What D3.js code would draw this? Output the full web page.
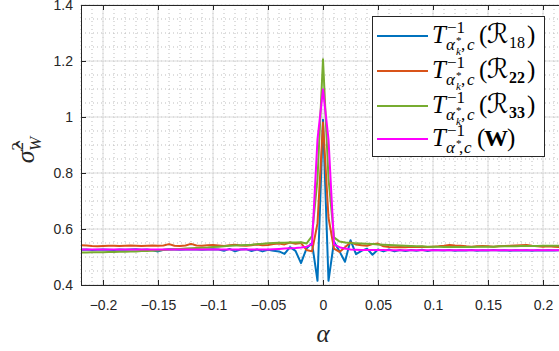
<!DOCTYPE html>
<html>
<head>
<meta charset="utf-8">
<script src="https://cdn.jsdelivr.net/npm/d3@7"></script>
<style>
  body { margin: 0; background: #fff; }
  svg { display: block; }
  .tick text { font-family: "Liberation Sans", Arial, sans-serif; font-size: 14px; fill: #262626; }
</style>
</head>
<body>
<div id="chart"></div>
<script>
const alpha = [
  -0.22,-0.215,-0.21,-0.205,-0.2,-0.195,-0.19,-0.185,-0.18,-0.175,
  -0.17,-0.165,-0.16,-0.155,-0.15,-0.145,-0.14,-0.135,-0.13,-0.125,
  -0.12,-0.115,-0.11,-0.105,-0.1,-0.095,-0.09,-0.085,-0.08,-0.075,
  -0.07,-0.065,-0.06,-0.055,-0.05,-0.045,-0.04,-0.035,-0.03,-0.025,
  -0.02,-0.015,-0.01,-0.005,0,0.005,0.01,0.015,0.02,0.025,
  0.03,0.035,0.04,0.045,0.05,0.055,0.06,0.065,0.07,0.075,
  0.08,0.085,0.09,0.095,0.1,0.105,0.11,0.115,0.12,0.125,
  0.13,0.135,0.14,0.145,0.15,0.155,0.16,0.165,0.17,0.175,
  0.18,0.185,0.19,0.195,0.2,0.205,0.21,0.215,0.22
];

const r18 = [
  0.526,0.527,0.525,0.526,0.527,0.526,0.525,0.527,0.526,0.527,
  0.528,0.526,0.527,0.524,0.520,0.526,0.528,0.527,0.526,0.527,
  0.528,0.527,0.526,0.527,0.528,0.527,0.522,0.529,0.520,0.527,
  0.528,0.521,0.527,0.520,0.526,0.522,0.520,0.511,0.535,0.522,
  0.478,0.530,0.550,0.415,0.990,0.415,0.555,0.520,0.483,0.560,
  0.510,0.522,0.530,0.508,0.527,0.520,0.527,0.520,0.525,0.521,
  0.525,0.522,0.526,0.521,0.525,0.524,0.523,0.525,0.522,0.524,
  0.523,0.525,0.522,0.524,0.523,0.525,0.523,0.524,0.522,0.524,
  0.523,0.524,0.522,0.524,0.523,0.524,0.523,0.524,0.523
];

const r22 = [
  0.542,0.541,0.539,0.538,0.539,0.540,0.540,0.539,0.540,0.541,
  0.540,0.539,0.540,0.541,0.540,0.541,0.546,0.540,0.539,0.541,
  0.547,0.541,0.540,0.542,0.543,0.541,0.539,0.542,0.544,0.541,
  0.540,0.542,0.545,0.542,0.543,0.546,0.548,0.545,0.552,0.547,
  0.550,0.525,0.520,0.620,0.980,0.640,0.530,0.518,0.535,0.552,
  0.545,0.542,0.540,0.546,0.548,0.538,0.536,0.535,0.536,0.535,
  0.537,0.536,0.537,0.536,0.537,0.538,0.540,0.543,0.541,0.540,
  0.538,0.537,0.538,0.539,0.538,0.537,0.538,0.539,0.540,0.541,
  0.542,0.543,0.540,0.538,0.537,0.538,0.537,0.536,0.536
];

const r33 = [
  0.516,0.516,0.517,0.517,0.517,0.518,0.518,0.519,0.519,0.520,
  0.520,0.521,0.521,0.522,0.523,0.525,0.527,0.528,0.529,0.530,
  0.531,0.532,0.533,0.534,0.536,0.537,0.538,0.540,0.541,0.542,
  0.543,0.544,0.546,0.547,0.549,0.550,0.551,0.551,0.552,0.552,
  0.553,0.548,0.575,0.780,1.206,0.780,0.570,0.555,0.552,0.550,
  0.549,0.548,0.547,0.546,0.545,0.544,0.543,0.542,0.541,0.540,
  0.539,0.538,0.538,0.537,0.537,0.537,0.536,0.536,0.536,0.536,
  0.536,0.536,0.537,0.537,0.537,0.537,0.538,0.538,0.538,0.538,
  0.539,0.539,0.539,0.539,0.540,0.540,0.540,0.540,0.540
];

const wAll = [
  0.527,0.527,0.527,0.527,0.527,0.527,0.527,0.527,0.527,0.527,
  0.527,0.527,0.527,0.527,0.527,0.527,0.527,0.527,0.527,0.527,
  0.527,0.527,0.527,0.527,0.527,0.527,0.527,0.527,0.527,0.527,
  0.527,0.527,0.527,0.527,0.527,0.528,0.529,0.530,0.531,0.532,
  0.534,0.537,0.545,0.920,1.099,0.920,0.545,0.535,0.530,0.527,
  0.526,0.525,0.525,0.525,0.525,0.525,0.524,0.524,0.524,0.524,
  0.524,0.524,0.524,0.524,0.524,0.524,0.524,0.524,0.524,0.524,
  0.524,0.524,0.524,0.524,0.524,0.524,0.524,0.524,0.524,0.524,
  0.524,0.524,0.524,0.524,0.524,0.524,0.524,0.524,0.524
];

const xTicks = [-0.2, -0.15, -0.1, -0.05, 0, 0.05, 0.1, 0.15, 0.2];
const yTicks = [0.4, 0.6, 0.8, 1, 1.2, 1.4];
const colors = ["#0072BD", "#D95319", "#77AC30", "#FF00FF"];
const subs = ["18", "22", "33"];

const margin = {top: 5, right: 0, bottom: 66, left: 81};
const width = 484;   // plot runs past the window edge, like the reference
const height = 280;

const svg = d3.select("#chart")
    .append("svg")
    .attr("width", 559)
    .attr("height", 351);

const g = svg.append("g")
    .attr("transform", "translate(" + margin.left + "," + margin.top + ")");

const x = d3.scaleLinear().domain([-0.22, 0.22]).range([0, width]);
const y = d3.scaleLinear().domain([0.4, 1.4]).range([height, 0]);

// minor grid (dotted)
const xMinor = d3.range(-22, 23).map(d => d / 100);
const yMinor = d3.range(8, 29).map(d => d / 20);
g.append("g").selectAll("line")
    .data(xMinor)
    .join("line")
    .attr("x1", d => x(d)).attr("x2", d => x(d))
    .attr("y1", 0).attr("y2", height)
    .attr("stroke", "#bdbdbd").attr("stroke-width", 1)
    .attr("stroke-dasharray", "1,3");
g.append("g").selectAll("line")
    .data(yMinor)
    .join("line")
    .attr("x1", 0).attr("x2", width)
    .attr("y1", d => y(d)).attr("y2", d => y(d))
    .attr("stroke", "#bdbdbd").attr("stroke-width", 1)
    .attr("stroke-dasharray", "1,3");

// major grid
g.append("g").selectAll("line")
    .data(xTicks)
    .join("line")
    .attr("x1", d => x(d)).attr("x2", d => x(d))
    .attr("y1", 0).attr("y2", height)
    .attr("stroke", "#dcdcdc").attr("stroke-width", 1);
g.append("g").selectAll("line")
    .data(yTicks)
    .join("line")
    .attr("x1", 0).attr("x2", width)
    .attr("y1", d => y(d)).attr("y2", d => y(d))
    .attr("stroke", "#dcdcdc").attr("stroke-width", 1);

// lines
g.append("clipPath").attr("id", "clip")
    .append("rect").attr("width", width).attr("height", height);

const series = [r18, r22, r33, wAll];
const line = d3.line()
    .x((d, i) => x(alpha[i]))
    .y(d => y(d));

g.append("g")
    .attr("clip-path", "url(#clip)")
    .selectAll("path")
    .data(series)
    .join("path")
    .attr("d", d => line(d))
    .attr("fill", "none")
    .attr("stroke", (d, i) => colors[i])
    .attr("stroke-width", 2)
    .attr("stroke-linejoin", "round");

// axes, MATLAB box style with inward ticks
const xAxis = d3.axisBottom(x).tickValues(xTicks).tickFormat(d3.format("")).tickSizeInner(-5).tickSizeOuter(0).tickPadding(15);
const xAxisTop = d3.axisTop(x).tickValues(xTicks).tickFormat("").tickSizeInner(-5).tickSizeOuter(0);
const yAxis = d3.axisLeft(y).tickValues(yTicks).tickFormat(d3.format("")).tickSizeInner(-5).tickSizeOuter(0).tickPadding(8);

g.append("g")
    .attr("transform", "translate(0," + height + ")")
    .call(xAxis);
g.append("g").call(xAxisTop);
g.append("g").call(yAxis);
g.selectAll(".domain").attr("stroke", "#262626");
g.selectAll(".tick line").attr("stroke", "#262626");

const serif = "'Times New Roman', 'Liberation Serif', 'DejaVu Serif', serif";

// axis labels
svg.append("text")
    .attr("x", x(0) + margin.left)
    .attr("y", 342)
    .attr("text-anchor", "middle")
    .attr("font-family", serif)
    .attr("font-style", "italic")
    .attr("font-size", 25)
    .attr("fill", "#262626")
    .text("α");

const yl = svg.append("text")
    .attr("transform", "translate(34,150) rotate(-90)")
    .attr("text-anchor", "middle")
    .attr("font-family", serif)
    .attr("fill", "#262626");
yl.append("tspan").attr("font-size", 26).attr("font-style", "italic").text("σ\u0302");
yl.append("tspan").attr("font-size", 17).attr("dy", -11).text("2");
yl.append("tspan").attr("font-size", 17).attr("font-style", "italic").attr("dx", -9).attr("dy", 18).text("W");

// legend
const leg = svg.append("g");
leg.append("rect")
    .attr("x", 372.5).attr("y", 16.5)
    .attr("width", 172).attr("height", 140)
    .attr("fill", "#fff")
    .attr("stroke", "#262626").attr("stroke-width", 1);

const rowY = [36, 71, 106, 139];

function piece(x0, b, dx, dy, txt, size, opts) {
    opts = opts || {};
    leg.append("text")
        .attr("x", x0 + dx)
        .attr("y", b + dy)
        .attr("font-family", opts.font || serif)
        .attr("font-size", size)
        .attr("font-style", opts.italic ? "italic" : "normal")
        .attr("font-weight", opts.bold ? "bold" : "normal")
        .attr("fill", "#000")
        .text(txt);
}

rowY.forEach((ly, i) => {
    leg.append("line")
        .attr("x1", 377).attr("x2", 428)
        .attr("y1", ly).attr("y2", ly)
        .attr("stroke", colors[i])
        .attr("stroke-width", 2);

    const x0 = 432, b = ly + 7;
    piece(x0, b, 0, 0, "T", 25, {italic: true});
    piece(x0, b, 15, -10, "\u22121", 17);
    piece(x0, b, 14, 7, "α", 17, {italic: true});
    if (i < 3) {
        piece(x0, b, 24, 1, "*", 11);
        piece(x0, b, 24, 12, "k", 11, {italic: true});
        piece(x0, b, 29, 7, ",", 17);
        piece(x0, b, 35, 7, "c", 17, {italic: true});
        piece(x0, b, 47, 0, "(", 25);
        piece(x0, b, 55, 0, "\u211B", 27, {font: "'DejaVu Serif', 'DejaVu Sans', serif"});
        piece(x0, b, 77, 5, subs[i], 16, {bold: i > 0});
        piece(x0, b, 95, 0, ")", 25);
    } else {
        piece(x0, b, 24, 1, "*", 11);
        piece(x0, b, 27, 7, ",", 17);
        piece(x0, b, 32, 7, "c", 17, {italic: true});
        piece(x0, b, 45, 0, "(", 25);
        piece(x0, b, 52, 0, "W", 24, {bold: true});
        piece(x0, b, 75, 0, ")", 25);
    }
});
</script>
</body>
</html>
